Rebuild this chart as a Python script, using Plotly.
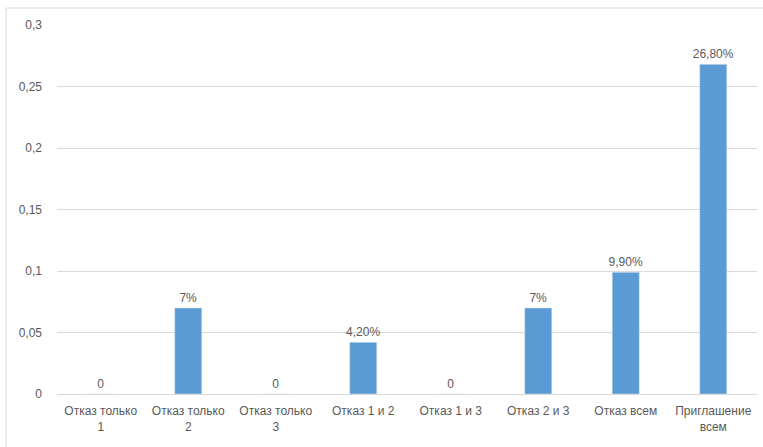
import plotly.graph_objects as go

categories = ["Отказ только<br>1", "Отказ только<br>2", "Отказ только<br>3", "Отказ 1 и 2",
              "Отказ 1 и 3", "Отказ 2 и 3", "Отказ всем", "Приглашение<br>всем"]
values = [0, 0.07, 0, 0.042, 0, 0.07, 0.099, 0.268]
labels = ["0", "7%", "0", "4,20%", "0", "7%", "9,90%", "26,80%"]
tick_vals = [0, 0.05, 0.1, 0.15, 0.2, 0.25, 0.3]
tick_text = ["0", "0,05", "0,1", "0,15", "0,2", "0,25", "0,3"]

fig = go.Figure(go.Bar(
    x=categories, y=values, text=labels, textposition="outside",
    constraintext="none",
    textfont=dict(color="#595959", size=12), cliponaxis=False,
    marker=dict(color="#5B9BD5"),
))

fig.update_layout(
    width=763, height=447,
    margin=dict(l=57, r=6, t=25, b=53),
    paper_bgcolor="white", plot_bgcolor="white",
    font=dict(family="Liberation Sans, Arial, sans-serif", size=12, color="#595959"),
    bargap=0.69,
    showlegend=False,
    yaxis=dict(range=[0, 0.3], tickvals=tick_vals, ticktext=tick_text,
               showgrid=True, gridcolor="#D9D9D9", gridwidth=1,
               zeroline=True, zerolinecolor="#D9D9D9", zerolinewidth=1,
               ticks="", ticklabelstandoff=14),
    xaxis=dict(showgrid=False, ticks="", tickangle=0, showline=False,
               ticklabelstandoff=8),
    shapes=[dict(type="rect", xref="paper", yref="paper",
                 x0=-0.0729, x1=1.02, y0=-0.2, y1=1.046,
                 line=dict(color="#D9D9D9", width=1), fillcolor="rgba(0,0,0,0)", layer="below")],
)

fig.write_html("out.html")
